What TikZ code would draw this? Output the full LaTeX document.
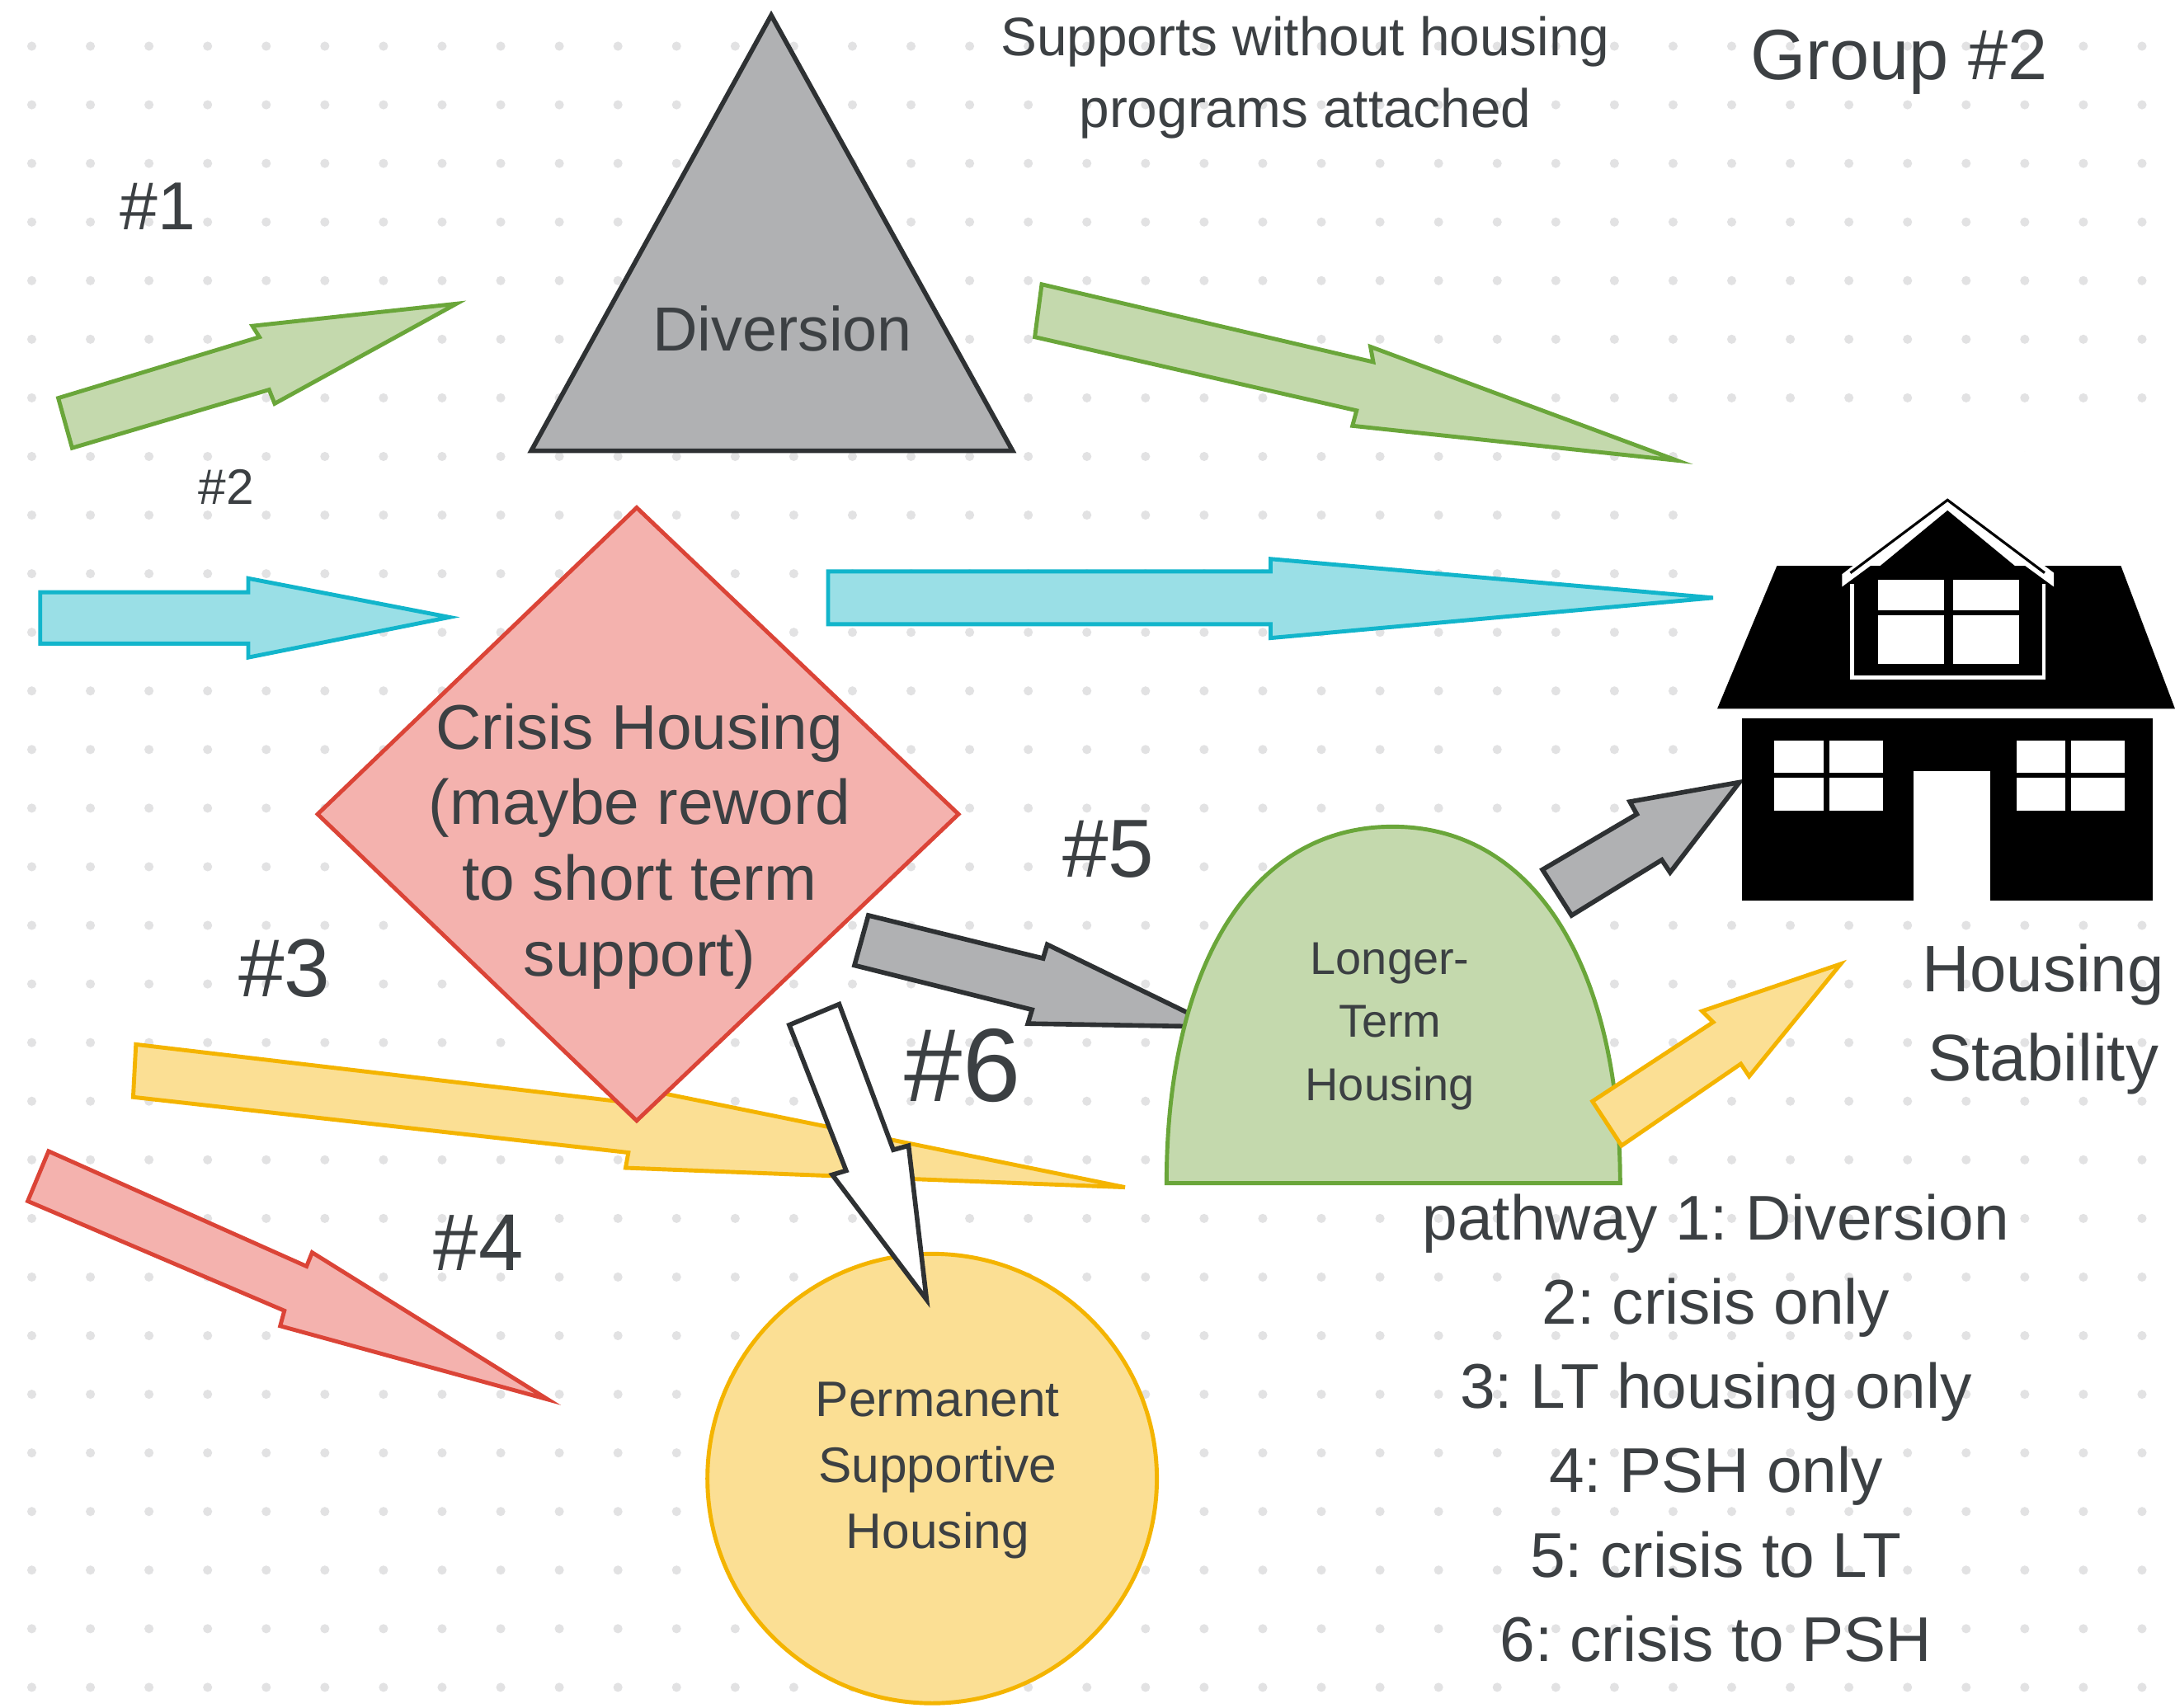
\documentclass[tikz,border=0pt]{standalone}
\usepackage{fontspec}
\setmainfont{Liberation Sans}
\frenchspacing
\usetikzlibrary{positioning}
\definecolor{inkgray}{HTML}{3C4043}
\definecolor{dotgray}{HTML}{E2E2E3}
\definecolor{slatefill}{HTML}{B0B1B3}
\definecolor{slateline}{HTML}{2E3133}
\definecolor{redfill}{HTML}{F4B2AE}
\definecolor{redline}{HTML}{DB4437}
\definecolor{greenfill}{HTML}{C4D9AD}
\definecolor{greenline}{HTML}{6AA63A}
\definecolor{cyanfill}{HTML}{9ADFE6}
\definecolor{cyanline}{HTML}{12B5CB}
\definecolor{yellowfill}{HTML}{FBDF94}
\definecolor{yellowline}{HTML}{F4B400}
\begin{document}
\begin{tikzpicture}[
        x=0.016818cm,y=-0.016818cm,
        txt/.style={text=inkgray,align=center,inner sep=0pt},
        greyshape/.style={draw=slateline,fill=slatefill,line width=1.6pt},
        redshape/.style={draw=redline,fill=redfill,line width=1.4pt},
        greenshape/.style={draw=greenline,fill=greenfill,line width=1.4pt},
        cyanshape/.style={draw=cyanline,fill=cyanfill,line width=1.4pt},
        yellowshape/.style={draw=yellowline,fill=yellowfill,line width=1.4pt},
        whiteshape/.style={draw=slateline,fill=white,line width=1.6pt},
      ]
      \useasboundingbox (0,0) rectangle (1568,1231.4);
      \fill[white] (0,0) rectangle (1568,1231.4);
      % dotted page
      \foreach \i in {0,...,36}
        \foreach \j in {0,...,28}
          \fill[dotgray] ({(38.5+71.07*\i)/1.6818},{(56+71.07*\j)/1.6818}) circle (3.3);
      \fill[white] (1240,326) rectangle (1568,655);
      % arrows
      \draw[greenshape] (42,287) -- (187,243) -- (182,235) -- (329,219) -- (198,291) -- (194,281) -- (52,323) -- cycle;
      \draw[greenshape] (751,205) -- (990,261) -- (988,250) -- (1209,332) -- (975,307) -- (978,296) -- (746,243) -- cycle;
      \draw[cyanshape] (29,427) -- (179,427) -- (179,417) -- (324,445) -- (179,474) -- (179,464) -- (29,464) -- cycle;
      \draw[cyanshape] (597,412) -- (916,412) -- (916,403) -- (1235,431) -- (916,460) -- (916,450) -- (597,450) -- cycle;
      \draw[redshape] (35,830) -- (221,913) -- (225,903) -- (395,1009) -- (202,956) -- (205,945) -- (20,866) -- cycle;
      \draw[greyshape] (1112,627) -- (1180,587) -- (1175,578) -- (1254,564) -- (1204,629) -- (1198,620) -- (1133,660) -- cycle;
      \draw[yellowshape] (98,753) -- (462,796) -- (462,785) -- (811,856) -- (451,842) -- (453,831) -- (96,791) -- cycle;
      % main shapes
      \draw[greyshape] (556,11) -- (730,325) -- (383,325) -- cycle;
      \draw[redshape] (459,366) -- (691,587) -- (459,808) -- (229,587) -- cycle;
      \draw[greyshape] (626,660) -- (752,691) -- (755,681) -- (862,733) -- (858,740) -- (741,738) -- (744,728) -- (616,696) -- cycle;
      \draw[greenshape] (841,853) .. controls (841,700) and (900,596) .. (1004,596)
        .. controls (1108,596) and (1168,700) .. (1168,853) -- cycle;
      \draw[yellowshape] (1148,794) -- (1235,737) -- (1227,729) -- (1327,695) -- (1261,776) -- (1255,767) -- (1169,826) -- cycle;
      \draw[yellowshape] (672,1066) circle (162);
      \draw[whiteshape] (605,724) -- (644,829) -- (655,826) -- (668,937) -- (600,847) -- (610,844) -- (569,739) -- cycle;
      % house
      \fill[black] (1281,408) -- (1529,408) -- (1568,511) -- (1238,511) -- cycle;
      \fill[black] (1256,518) rectangle (1552,649.5);
      \fill[white] (1379.4,556) rectangle (1435,649.5);
      \foreach \xa/\xb in {1279.3/1314.4,1319/1357.2,1454/1489,1493/1532} {
        \fill[white] (\xa,533.7) rectangle (\xb,557);
        \fill[white] (\xa,560.7) rectangle (\xb,584.7);
      }
      \fill[black] (1336,424) -- (1404,368) -- (1472,424) -- cycle;
      \fill[white] (1328,414) -- (1404,355) -- (1480.6,413) -- (1480.6,423) -- (1404,367) -- (1328,423) -- cycle;
      \draw[black,line width=0.9pt] (1334,413) -- (1404,360.5) -- (1474,413);
      \draw[white,line width=1.3pt] (1335.2,421) |- (1473.4,488.5) -- (1473.4,421);
      \foreach \xa/\xb in {1353.8/1401.6,1408/1455.7} {
        \fill[white] (\xa,418) rectangle (\xb,440);
        \fill[white] (\xa,443.4) rectangle (\xb,478.5);
      }
      % labels
      \node[txt,font=\fontsize{18.7}{24.9}\selectfont] (supports) at (941,56) {Supports without housing\\programs attached};
      \node[txt,font=\fontsize{24.6}{29}\selectfont] (group) at (1369,45) {Group \#2};
      \node[txt,font=\fontsize{23.4}{27}\selectfont] (one) at (114,149) {\#1};
      \node[txt,font=\fontsize{17.2}{20}\selectfont] (two) at (163,351) {\#2};
      \node[txt,font=\fontsize{21.5}{26}\selectfont] (diversion) at (564,237) {Diversion};
      \node[txt,font=\fontsize{21.8}{26.1}\selectfont] (crisis) at (461,610) {Crisis Housing\\(maybe reword\\to short term\\support)};
      \node[txt,font=\fontsize{28.4}{32}\selectfont] (three) at (205,698) {\#3};
      \node[txt,font=\fontsize{27.8}{32}\selectfont] (four) at (345,896) {\#4};
      \node[txt,font=\fontsize{28.4}{32}\selectfont] (five) at (799,612) {\#5};
      \node[txt,font=\fontsize{35.9}{40}\selectfont] (six) at (694,768) {\#6};
      \node[txt,font=\fontsize{15.9}{21.7}\selectfont] (longer) at (1002,740) {Longer-\\Term\\Housing};
      \node[txt,font=\fontsize{17.2}{22.7}\selectfont] (psh) at (676,1060) {Permanent\\Supportive\\Housing};
      \node[txt,font=\fontsize{22.7}{30.6}\selectfont] (stability) at (1473,735) {Housing\\Stability};
      \node[txt,font=\fontsize{21.8}{29.1}\selectfont] (legend) at (1237,1029.5) {pathway 1: Diversion\\2: crisis only\\3: LT housing only\\4: PSH only\\5: crisis to LT\\6: crisis to PSH};
    \end{tikzpicture}
\end{document}
